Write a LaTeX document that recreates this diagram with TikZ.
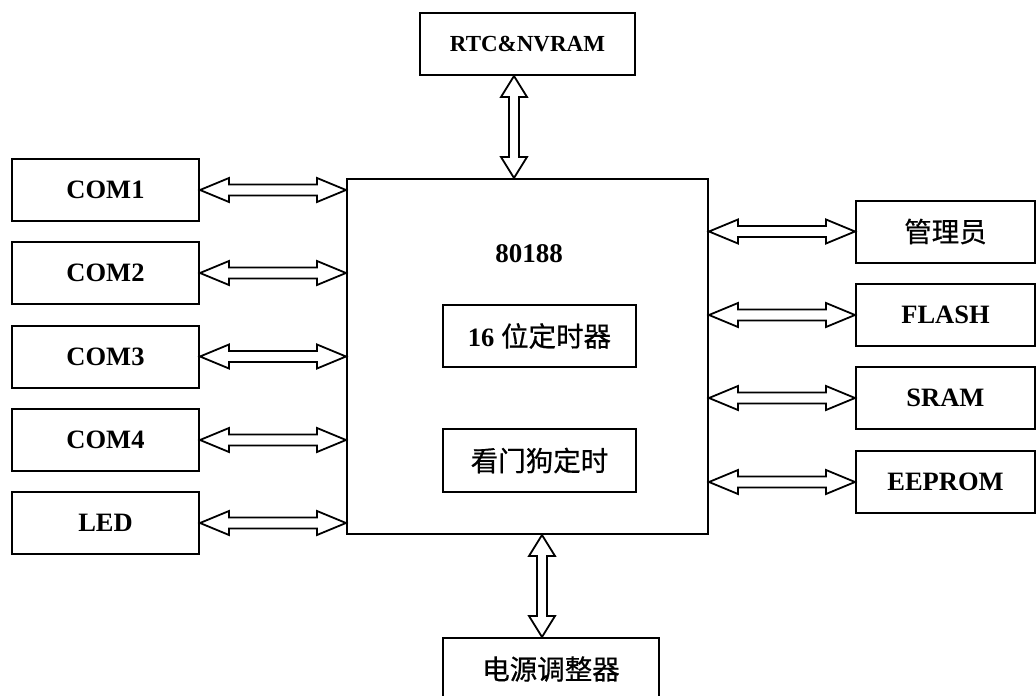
\documentclass[tikz,border=0pt]{standalone}
\usepackage{fontspec}
\setmainfont{Liberation Serif}
\newfontfamily\cjk[FakeBold=0.6]{Noto Sans CJK SC}
\usetikzlibrary{calc}
\tikzset{
  box/.style={draw, line width=2pt, rectangle, inner sep=0pt, font=\fontsize{26.5}{30}\selectfont\bfseries},
  lbox/.style={box, minimum width=187pt, minimum height=62pt},
  rbox/.style={box, minimum width=179pt, minimum height=62pt},
  ibox/.style={box, minimum width=193pt, minimum height=62pt},
  cn/.style={font=\fontsize{27.5}{30}\selectfont\cjk},
  arr/.style={draw, line width=1.8pt, fill=white, line join=miter},
}
\newcommand\harr[2]{%
  \path[arr] let \p1=#1, \p2=#2 in
    (\x1,\y1) -- (\x1+29pt,\y1+12pt) -- (\x1+29pt,\y1+5.5pt) -- (\x2-29pt,\y1+5.5pt)
    -- (\x2-29pt,\y1+12pt) -- (\x2,\y1) -- (\x2-29pt,\y1-12pt) -- (\x2-29pt,\y1-5.5pt)
    -- (\x1+29pt,\y1-5.5pt) -- (\x1+29pt,\y1-12pt) -- cycle;}
\newcommand\varr[2]{%
  \path[arr] let \p1=#1, \p2=#2 in
    (\x1,\y1) -- (\x1+13pt,\y1-21pt) -- (\x1+5pt,\y1-21pt) -- (\x1+5pt,\y2+21pt)
    -- (\x1+13pt,\y2+21pt) -- (\x1,\y2) -- (\x1-13pt,\y2+21pt) -- (\x1-5pt,\y2+21pt)
    -- (\x1-5pt,\y1-21pt) -- (\x1-13pt,\y1-21pt) -- cycle;}
\begin{document}
\begin{tikzpicture}[x=1pt,y=-1pt]
\useasboundingbox (0,0) rectangle (1036,696);
\clip (0,0) rectangle (1036,696);
% top
\node[box, minimum width=215pt, minimum height=62pt, font=\fontsize{23}{26}\selectfont\bfseries] (rtc) at (527.5,44) {RTC\&NVRAM};
% main
\node[box, minimum width=361pt, minimum height=355pt] (main) at (527.5,356.5) {};
\node[font=\fontsize{27}{30}\selectfont\bfseries] (cpu) at (529,254) {80188};
\node[ibox] (t16) at (539.5,336) {16 {\fontsize{27.5}{30}\selectfont\cjk\mdseries 位定时器}};
\node[ibox, minimum height=63pt, cn] (wdt) at (539.5,460.5) {看门狗定时};
% left
\node[lbox] (com1) at (105.5,190) {COM1};
\node[lbox] (com2) at (105.5,273) {COM2};
\node[lbox] (com3) at (105.5,356.5) {COM3};
\node[lbox] (com4) at (105.5,440) {COM4};
\node[lbox] (led) at (105.5,523) {LED};
% right
\node[rbox, cn] (mgr) at (945.5,231.5) {管理员};
\node[rbox] (flash) at (945.5,315) {FLASH};
\node[rbox] (sram) at (945.5,398) {SRAM};
\node[rbox] (eeprom) at (945.5,482) {EEPROM};
% bottom
\node[box, minimum width=216pt, minimum height=62pt, cn] (pw) at (551,669) {电源调整器};
% arrows
\foreach \nm in {com1,com2,com3,com4,led}{\harr{(\nm.east)}{(\nm.east -| main.west)}}
\foreach \nm in {mgr,flash,sram,eeprom}{\harr{(\nm.west -| main.east)}{(\nm.west)}}
\coordinate (ta) at ([xshift=-13.5pt]rtc.south);
\coordinate (ba) at ([xshift=-9pt]pw.north);
\varr{(ta)}{(ta |- main.north)}
\varr{(ba |- main.south)}{(ba)}
\end{tikzpicture}
\end{document}
